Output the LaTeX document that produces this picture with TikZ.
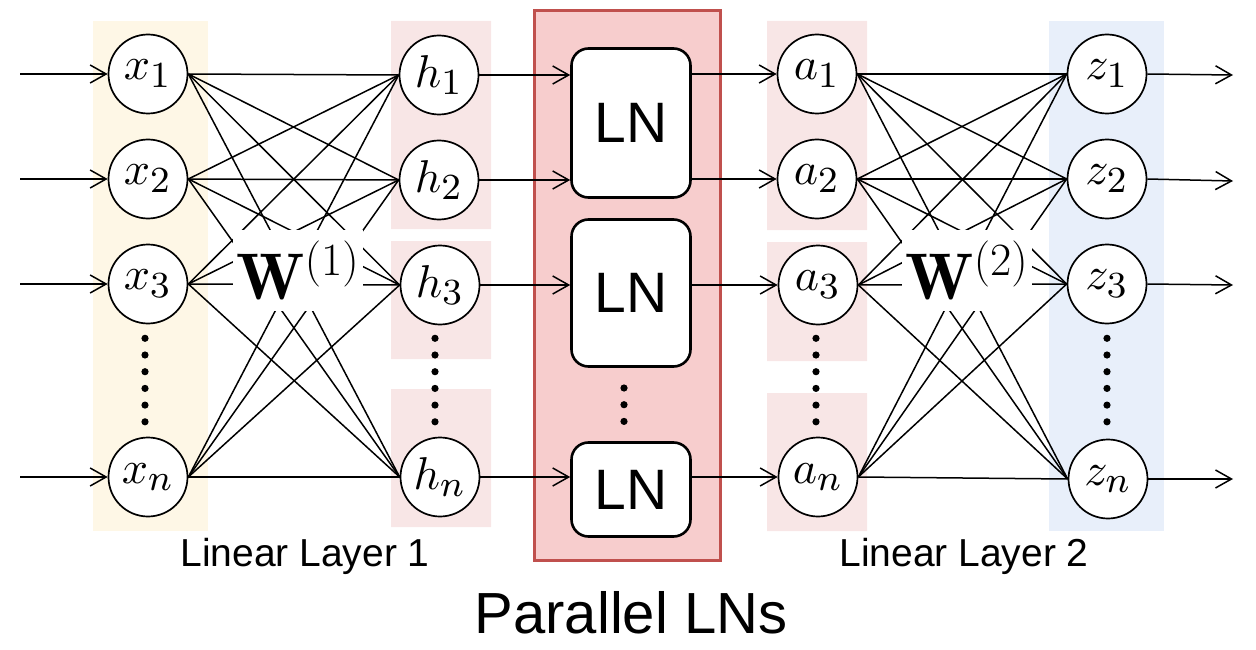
\RequirePackage{fix-cm}
\documentclass[tikz,border=0pt]{standalone}
\usepackage{fontspec}
\usepackage{graphicx}
\newfontfamily\arial{Liberation Sans}
\DeclareMathSizes{10}{10}{8}{6}
\newcommand\nlab[1]{\scalebox{4.6}{$#1$}}
\usetikzlibrary{arrows.meta}
\definecolor{ybg}{RGB}{254,247,230}
\definecolor{pbg}{RGB}{248,230,230}
\definecolor{bbg}{RGB}{232,239,250}
\definecolor{lnfill}{RGB}{247,205,205}
\definecolor{lnedge}{RGB}{192,80,77}
\begin{document}
\begin{tikzpicture}[x=1pt,y=-1pt,
 neuron/.style={circle,draw,line width=1.7pt,fill=white,minimum size=79pt,inner sep=0pt,font=\fontsize{10}{12}\selectfont},
 lnbox/.style={draw,line width=2.6pt,rounded corners=17pt,fill=white,minimum width=119pt,inner sep=0pt,font=\arial\fontsize{57}{60}\selectfont},
 conn/.style={line width=1.5pt},
 arr/.style={line width=1.5pt,-{Straight Barb[length=16pt,width=18pt]}},
 wlabel/.style={fill=white,inner sep=0pt,minimum width=130pt,minimum height=81pt,font=\fontsize{66}{70}\selectfont},
 captext/.style={anchor=base,font=\arial\fontsize{39}{44}\selectfont},
]
\useasboundingbox (0,0) rectangle (1256,650);
% backgrounds
\fill[ybg] (93,21) rectangle (208,531);
\fill[pbg] (391,21) rectangle (491,229) (391,241) rectangle (491,359) (391,389) rectangle (491,527);
\fill[pbg] (767,21) rectangle (867,230) (767,242) rectangle (867,361) (767,393) rectangle (867,531);
\fill[bbg] (1049,21) rectangle (1164,531);
\draw[lnedge,fill=lnfill,line width=3pt] (534.5,10.5) rectangle (720.5,560.5);
% neurons
\node[neuron] (x1) at (148,74) {\nlab{x_1}};
\node[neuron] (x2) at (148,179) {\nlab{x_2}};
\node[neuron] (x3) at (148,284) {\nlab{x_3}};
\node[neuron] (xn) at (148,477) {\nlab{x_n}};
\node[neuron] (h1) at (439,75) {\nlab{h_1}};
\node[neuron] (h2) at (439,180) {\nlab{h_2}};
\node[neuron] (h3) at (440,285) {\nlab{h_3}};
\node[neuron] (hn) at (440,477) {\nlab{h_n}};
\node[neuron] (a1) at (817,74) {\nlab{a_1}};
\node[neuron] (a2) at (817,179) {\nlab{a_2}};
\node[neuron] (a3) at (818,285) {\nlab{a_3}};
\node[neuron] (an) at (818,477) {\nlab{a_n}};
\node[neuron] (z1) at (1107,74) {\nlab{z_1}};
\node[neuron] (z2) at (1107,179) {\nlab{z_2}};
\node[neuron] (z3) at (1107,284) {\nlab{z_3}};
\node[neuron] (zn) at (1108,479) {\nlab{z_n}};
% LN boxes
\node[lnbox,minimum height=149pt] (ln1) at (631,123) {LN};
\node[lnbox,minimum height=147pt] (ln2) at (631,293) {LN};
\node[lnbox,minimum height=94pt] (ln3) at (631,489.5) {LN};
% dense connections
\foreach \i in {1,2,3,n}{
  \foreach \j in {1,2,3,n}{
    \draw[conn] (x\i.east) -- (h\j.west);
    \draw[conn] (a\i.east) -- (z\j.west);
  }
}
% weight labels
\node[wlabel] (w1) at (298,270) {$\mathbf{W}^{(1)}$};
\node[wlabel] (w2) at (967,270) {$\mathbf{W}^{(2)}$};
% input / output arrows
\foreach \i/\y in {1/74,2/179,3/284,n/477}{
  \coordinate (in\i) at (20,\y);
  \draw[arr] (in\i) -- (x\i.west);
}
\foreach \i/\y in {1/75,2/181,3/285,n/479}{
  \coordinate (out\i) at (1233,\y);
  \draw[arr] (z\i.east) -- (out\i);
}
% LN arrows
\draw[arr] (h1.east) -- (h1.east -| ln1.west);
\draw[arr] (h2.east) -- (h2.east -| ln1.west);
\draw[arr] (h3.east) -- (h3.east -| ln2.west);
\draw[arr] (hn.east) -- (hn.east -| ln3.west);
\draw[arr] (a1.west -| ln1.east) -- (a1.west);
\draw[arr] (a2.west -| ln1.east) -- (a2.west);
\draw[arr] (a3.west -| ln2.east) -- (a3.west);
\draw[arr] (an.west -| ln3.east) -- (an.west);
% vertical dots
\foreach \cx in {145,435,816,1107}{
  \foreach \k in {0,...,5}{
    \fill (\cx,338.3+16.7*\k) circle (3.6pt);
  }
}
\foreach \k in {0,1,2}{
  \fill (624,388+16.7*\k) circle (3.6pt);
}
% captions
\node[captext] (cap1) at (305,566) {Linear Layer 1};
\node[captext] (cap2) at (964,566) {Linear Layer 2};
\node[captext,font=\arial\fontsize{58}{60}\selectfont] (cap3) at (631,633) {Parallel LNs};
\end{tikzpicture}
\end{document}
